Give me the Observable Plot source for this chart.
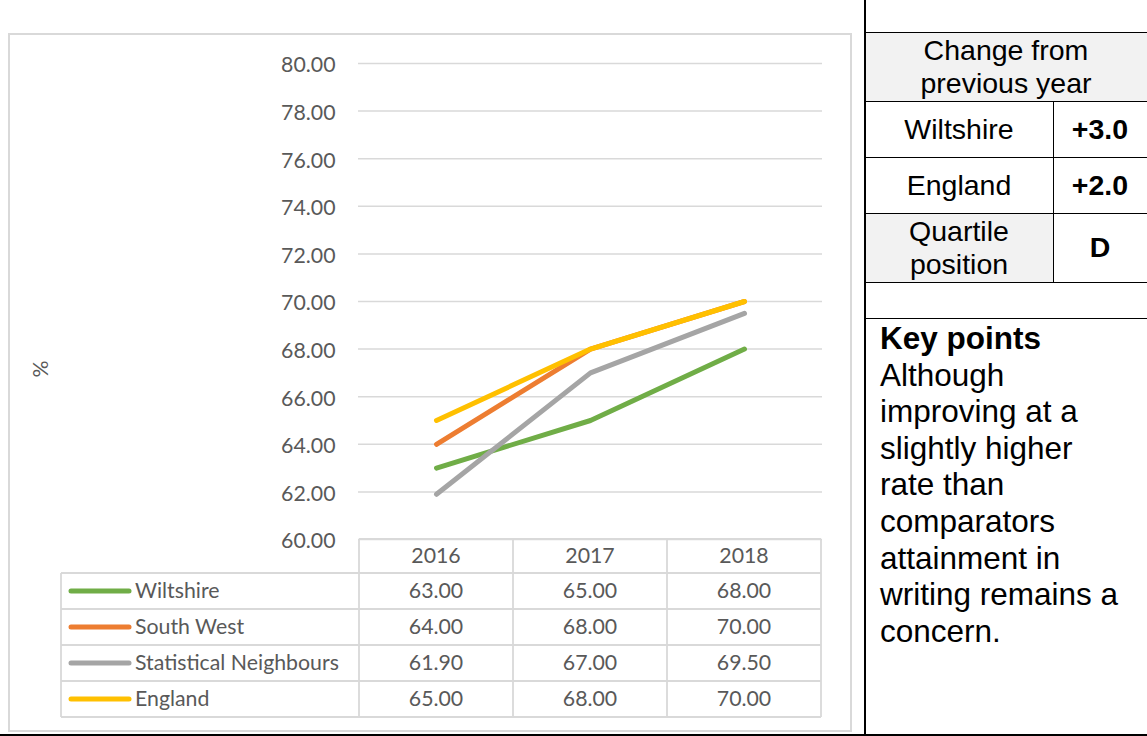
<!DOCTYPE html>
<html><head><meta charset="utf-8">
<script src="https://cdn.jsdelivr.net/npm/d3@7"></script>
<script src="https://cdn.jsdelivr.net/npm/@observablehq/plot@0.6"></script>
<style>
html,body{margin:0;padding:0;background:#fff;}
#page{position:relative;width:1147px;height:736px;overflow:hidden;background:#fff;}
#chart{position:absolute;left:0;top:0;}
.ab{position:absolute;}
.rp{position:absolute;font-family:"Liberation Sans",Arial,sans-serif;color:#000;display:flex;align-items:center;justify-content:center;text-align:center;font-size:28.5px;line-height:33px;}
.bold{font-weight:bold;}
#keypoints{position:absolute;left:880px;top:320px;width:265px;font-family:"Liberation Sans",Arial,sans-serif;font-size:31.5px;line-height:36.6px;color:#000;white-space:nowrap;}
</style></head>
<body><div id="page"><div id="chart"></div><div id="right"></div></div>
<script>
// ---------- data ----------
const years = ["2016", "2017", "2018"];
const seriesNames = ["Wiltshire", "South West", "Statistical Neighbours", "England"];
const wiltshire = [63.00, 65.00, 68.00];
const southWest = [64.00, 68.00, 70.00];
const statNeighbours = [61.90, 67.00, 69.50];
const england = [65.00, 68.00, 70.00];
const seriesColors = ["#70ad47", "#ed7d31", "#a5a5a5", "#ffc000"];
const yTicks = [60, 62, 64, 66, 68, 70, 72, 74, 76, 78, 80];
const yAxisTitle = "%";

const changeHeader = ["Change from", "previous year"];
const changeLabels = ["Wiltshire", "England"];
const changeValues = ["+3.0", "+2.0"];
const quartileLabel = ["Quartile", "position"];
const quartileValue = "D";
const keyPointsTitle = "Key points";
const keyPointsLines = ["Although", "improving at a", "slightly higher", "rate than", "comparators", "attainment in", "writing remains a", "concern."];

// ---------- chart ----------
const seriesValues = [wiltshire, southWest, statNeighbours, england];
const data = seriesNames.flatMap((s, i) => years.map((yr, j) => ({series: s, year: yr, value: seriesValues[i][j]})));

const textColor = "#595959";
const fontLeft = "Lato, 'Open Sans', sans-serif";
const fs = 21.3;

const plot = Plot.plot({
  width: 865, height: 736,
  marginLeft: 358, marginRight: 43, marginTop: 63, marginBottom: 197,
  style: {fontFamily: fontLeft, fontSize: fs + "px", color: textColor, background: "transparent", overflow: "visible"},
  x: {type: "point", domain: years, padding: 0.5, axis: null},
  y: {domain: [60, 80], axis: null},
  color: {domain: seriesNames, range: seriesColors},
  marks: [
    Plot.ruleY(yTicks, {stroke: "#d9d9d9", strokeWidth: 1.5}),
    Plot.axisY(yTicks, {tickSize: 0, tickPadding: 23, dy: 2, tickFormat: d => d.toFixed(2), label: null, fontSize: fs, fill: textColor}),
    Plot.line(data, {x: "year", y: "value", z: "series", stroke: "series", strokeWidth: 5, strokeLinecap: "round", strokeLinejoin: "round"})
  ]
});
document.getElementById("chart").appendChild(plot);

const svg = d3.select(plot);
const xs = plot.scale("x");
const ys = plot.scale("y");
const centers = years.map(y => xs.apply(y));
const step = centers[1] - centers[0];
const colEdges = [61, centers[0] - step / 2, ...centers.map(c => c + step / 2)];
const tableTop = ys.apply(60);
const headerH = 34, rowH = 36;
const rowEdges = [tableTop, tableTop + headerH];
seriesNames.forEach((s, i) => rowEdges.push(tableTop + headerH + rowH * (i + 1)));

// outer frame
svg.insert("rect", ":first-child")
  .attr("x", 9).attr("y", 34).attr("width", 842).attr("height", 697)
  .attr("fill", "none").attr("stroke", "#d9d9d9").attr("stroke-width", 2);

// y axis title
svg.append("text").text(yAxisTitle)
  .attr("transform", `translate(40,${369}) rotate(-90)`)
  .attr("text-anchor", "middle").attr("dominant-baseline", "central")
  .attr("fill", textColor).attr("font-size", fs);

// data table
const g = svg.append("g").attr("stroke", "#d9d9d9").attr("stroke-width", 1.8);
const bottom = rowEdges[rowEdges.length - 1];
g.append("line").attr("x1", colEdges[1]).attr("x2", colEdges[4]).attr("y1", rowEdges[0]).attr("y2", rowEdges[0]);
for (let r = 1; r < rowEdges.length; r++) {
  g.append("line").attr("x1", colEdges[0]).attr("x2", colEdges[4]).attr("y1", rowEdges[r]).attr("y2", rowEdges[r]);
}
g.append("line").attr("x1", colEdges[0]).attr("x2", colEdges[0]).attr("y1", rowEdges[1]).attr("y2", bottom);
for (let c = 1; c < colEdges.length; c++) {
  g.append("line").attr("x1", colEdges[c]).attr("x2", colEdges[c]).attr("y1", rowEdges[0]).attr("y2", bottom);
}
const tg = svg.append("g").attr("fill", textColor).attr("font-size", fs).attr("font-family", fontLeft).attr("dominant-baseline", "central");
years.forEach((yr, j) => {
  tg.append("text").text(yr).attr("x", centers[j]).attr("y", (rowEdges[0] + rowEdges[1]) / 2 - 1.5).attr("text-anchor", "middle");
});
seriesNames.forEach((s, i) => {
  const cy = (rowEdges[i + 1] + rowEdges[i + 2]) / 2;
  svg.append("line").attr("x1", 71).attr("x2", 129).attr("y1", cy).attr("y2", cy)
    .attr("stroke", seriesColors[i]).attr("stroke-width", 5).attr("stroke-linecap", "round");
  tg.append("text").text(s).attr("x", 135).attr("y", cy - 1.5).attr("text-anchor", "start");
  years.forEach((yr, j) => {
    tg.append("text").text(seriesValues[i][j].toFixed(2)).attr("x", centers[j]).attr("y", cy - 1.5).attr("text-anchor", "middle");
  });
});

// ---------- right panel ----------
const right = document.getElementById("right");
function box(l, t, w, h, bg) {
  const d = document.createElement("div");
  d.className = "ab";
  Object.assign(d.style, {left: l + "px", top: t + "px", width: w + "px", height: h + "px", background: bg});
  right.appendChild(d);
  return d;
}
function cell(l, t, w, h, html, bold) {
  const d = document.createElement("div");
  d.className = "rp" + (bold ? " bold" : "");
  Object.assign(d.style, {left: l + "px", top: t + "px", width: w + "px", height: h + "px"});
  d.innerHTML = html;
  right.appendChild(d);
}
const L = 865, R = 1147, M = 1053;
const rT = [32, 101, 157, 213, 282];
box(L, rT[0], R - L, rT[1] - rT[0], "#f2f2f2");
box(L, rT[3], M - L, rT[4] - rT[3], "#f2f2f2");
rT.forEach(y => box(L, y - 0.5, R - L, 1.2, "#000"));
box(M - 0.5, rT[1], 1.2, rT[4] - rT[1], "#000");
box(L, 317.5, R - L, 1.2, "#000");
box(864, 0, 1.6, 736, "#000");
box(0, 734, 1147, 2, "#000");

cell(L, rT[0], R - L, rT[1] - rT[0], changeHeader.join("<br>"));
changeLabels.forEach((lab, i) => {
  cell(L, rT[i + 1], M - L, rT[i + 2] - rT[i + 1], lab);
  cell(M, rT[i + 1], R - M, rT[i + 2] - rT[i + 1], changeValues[i], true);
});
cell(L, rT[3], M - L, rT[4] - rT[3], quartileLabel.join("<br>"));
cell(M, rT[3], R - M, rT[4] - rT[3], quartileValue, true);

const kp = document.createElement("div");
kp.id = "keypoints";
kp.innerHTML = `<b>${keyPointsTitle}</b><br>` + keyPointsLines.join("<br>");
right.appendChild(kp);
</script>
</body></html>
